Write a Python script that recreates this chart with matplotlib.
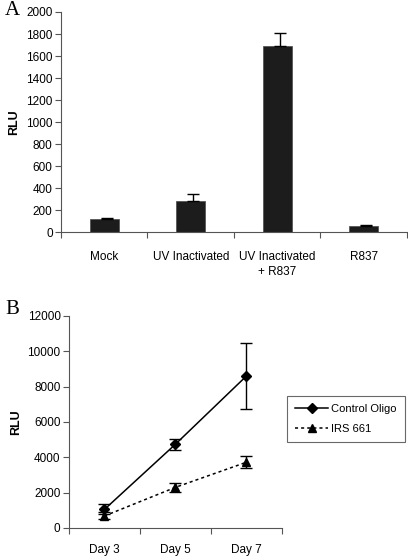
import numpy as np
import matplotlib.pyplot as plt
from matplotlib.lines import Line2D

plt.rcParams['font.family'] = ['Liberation Sans', 'DejaVu Sans']

# Panel A data
groups_a = ['Mock', 'UV Inactivated', 'UV Inactivated\n+ R837', 'R837']
rlu_a = [115, 282, 1688, 58]
err_a = [17, 68, 117, 6]

# Panel B data
days = ['Day 3', 'Day 5', 'Day 7']
control_oligo = [1050, 4740, 8600]
control_err = [280, 300, 1850]
irs661 = [680, 2300, 3720]
irs_err = [200, 250, 350]

fs = 8.5

fig = plt.figure(figsize=(4.08, 5.58), dpi=100)

# ---- A
ax1 = fig.add_axes([0.1495, 0.584, 0.848, 0.3945])
x = np.arange(len(groups_a))
ax1.bar(x, rlu_a, width=0.33, color='#1c1c1c', edgecolor='#555555', linewidth=0.6)
ax1.errorbar(x + 0.03, rlu_a, yerr=[np.zeros(len(err_a)), err_a], fmt='none',
             ecolor='black', elinewidth=1, capsize=4, capthick=1)
ax1.set_xlim(-0.5, 3.5)
ax1.set_ylim(0, 2000)
ax1.set_yticks(np.arange(0, 2001, 200))
ax1.set_xticks(np.arange(-0.5, 4, 1))
ax1.set_xticklabels([])
ax1.tick_params(axis='x', length=4, color='#555555')
ax1.tick_params(axis='y', length=4, color='#555555', labelsize=fs, pad=2)
for i, g in enumerate(groups_a):
    ax1.text(i, -170, g, ha='center', va='top', fontsize=fs, linespacing=1.3)
ax1.set_ylabel('RLU', fontweight='bold', fontsize=9, labelpad=4)
for s in ['top', 'right']:
    ax1.spines[s].set_visible(False)
for s in ['left', 'bottom']:
    ax1.spines[s].set_color('#555555')
fig.text(0.012, 0.998, 'A', family='Liberation Serif', fontsize=15, va='top')

# ---- B
ax2 = fig.add_axes([0.169, 0.0538, 0.522, 0.380])
xb = np.arange(len(days))
ax2.errorbar(xb, control_oligo, yerr=control_err, color='black', marker='D',
             markersize=5, linewidth=1.1, capsize=4, elinewidth=1)
ax2.errorbar(xb, irs661, yerr=irs_err, color='black', marker='^', markersize=6,
             linewidth=1.1, linestyle=(0, (2, 2)), capsize=4, elinewidth=1)
ax2.set_xlim(-0.5, 2.5)
ax2.set_ylim(0, 12000)
ax2.set_yticks(np.arange(0, 12001, 2000))
ax2.set_xticks(np.arange(-0.5, 3, 1))
ax2.set_xticklabels([])
ax2.tick_params(axis='x', length=4, color='#555555')
ax2.tick_params(axis='y', length=4, color='#555555', labelsize=fs, pad=2)
for i, d in enumerate(days):
    ax2.text(i, -900, d, ha='center', va='top', fontsize=fs)
ax2.set_ylabel('RLU', fontweight='bold', fontsize=9, labelpad=4)
for s in ['top', 'right']:
    ax2.spines[s].set_visible(False)
for s in ['left', 'bottom']:
    ax2.spines[s].set_color('#555555')

# legend with plain line+marker handles (no error bars)
handles = [Line2D([], [], color='black', marker='D', markersize=5, linewidth=1.1),
           Line2D([], [], color='black', marker='^', markersize=6, linewidth=1.1,
                  linestyle=(0, (2, 2)))]
leg = fig.legend(handles, ['Control Oligo', 'IRS 661'], loc='upper left',
                 bbox_to_anchor=(0.703, 0.291), fancybox=False, edgecolor='#444444',
                 fontsize=8, handlelength=3.0, borderpad=0.75, labelspacing=0.9,
                 handletextpad=0.25, borderaxespad=0)
leg.get_frame().set_linewidth(0.8)
fig.text(0.012, 0.463, 'B', family='Liberation Serif', fontsize=15, va='top')

fig.savefig('out.png', dpi=100)
